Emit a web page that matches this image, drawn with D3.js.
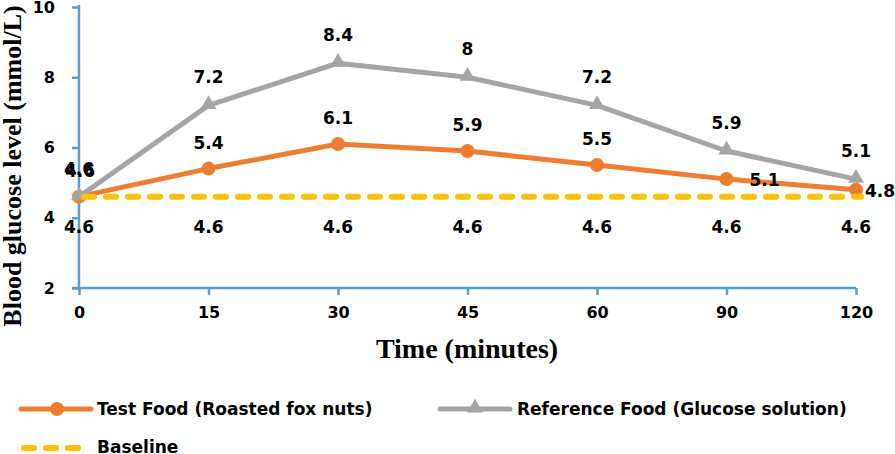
<!DOCTYPE html>
<html>
<head>
<meta charset="utf-8">
<script src="https://cdn.jsdelivr.net/npm/d3@7"></script>
<style>
  body { margin: 0; background: #fff; }
  svg { display: block; }
  .lbl { font-family: "DejaVu Sans", Verdana, sans-serif; font-weight: bold; fill: #000; }
  .ttl { font-family: "Liberation Serif", "Times New Roman", serif; font-weight: bold; fill: #000; }
</style>
</head>
<body>
<svg id="chart" width="895" height="454"></svg>
<script>
// data
var times = ["0", "15", "30", "45", "60", "90", "120"];
var testFood = [4.6, 5.4, 6.1, 5.9, 5.5, 5.1, 4.8];
var refFood = [4.6, 7.2, 8.4, 8, 7.2, 5.9, 5.1];
var baseline = [4.6, 4.6, 4.6, 4.6, 4.6, 4.6, 4.6];
var yTicks = [2, 4, 6, 8, 10];
// where each test label sits (Excel pushed the last two to the right)
var testLabelPos = ["above", "above", "above", "above", "above", "right", "right"];

var orange = "#ED7D31", grey = "#A5A5A5", yellow = "#FFC000", axisBlue = "#5B9BD5";

var svg = d3.select("#chart");

var x = d3.scalePoint().domain(times).range([79, 856]).padding(0);
var y = d3.scaleLinear().domain([2, 10]).range([288, 7]);

// axes
var yAxis = svg.append("g")
  .attr("transform", "translate(79,0)")
  .call(d3.axisLeft(y).tickValues(yTicks).tickSize(7).tickPadding(17).tickSizeOuter(0));
var xAxis = svg.append("g")
  .attr("transform", "translate(0,288)")
  .call(d3.axisBottom(x).tickSize(7).tickPadding(12).tickSizeOuter(0));

[yAxis, xAxis].forEach(function (a) {
  a.select(".domain").attr("stroke", axisBlue).attr("stroke-width", 2.5);
  a.selectAll(".tick line").attr("stroke", axisBlue).attr("stroke-width", 2.5);
  a.selectAll(".tick text").attr("class", "lbl").style("font-size", "16px").attr("fill", "#000");
});
// x axis line pokes out to the left like the original
xAxis.select(".domain").attr("d", "M72,0H856");
yAxis.select(".domain").attr("d", "M0,5V288");

var line = d3.line()
  .x(function (d, i) { return x(times[i]); })
  .y(function (d) { return y(d); });

// test food
svg.append("path").datum(testFood)
  .attr("d", line).attr("fill", "none")
  .attr("stroke", orange).attr("stroke-width", 5).attr("stroke-linejoin", "round");
svg.selectAll(".testDot").data(testFood).enter().append("circle")
  .attr("cx", function (d, i) { return x(times[i]); })
  .attr("cy", function (d) { return y(d); })
  .attr("r", 7).attr("fill", orange);

// reference food
svg.append("path").datum(refFood)
  .attr("d", line).attr("fill", "none")
  .attr("stroke", grey).attr("stroke-width", 5).attr("stroke-linejoin", "round");
var tri = d3.symbol().type(d3.symbolTriangle).size(110);
svg.selectAll(".refDot").data(refFood).enter().append("path")
  .attr("d", tri)
  .attr("transform", function (d, i) { return "translate(" + x(times[i]) + "," + (y(d) - 1) + ")"; })
  .attr("fill", grey);

// baseline
svg.append("path").datum(baseline)
  .attr("d", line).attr("fill", "none")
  .attr("stroke", yellow).attr("stroke-width", 6)
  .attr("stroke-dasharray", "10,12").attr("stroke-linecap", "round")
  .attr("transform", "translate(5,0)");

// data labels
svg.selectAll(".refLbl").data(refFood).enter().append("text")
  .attr("class", "lbl").style("font-size", "17px")
  .attr("x", function (d, i) { return x(times[i]); })
  .attr("y", function (d) { return y(d) - 22; })
  .attr("text-anchor", "middle")
  .text(function (d) { return d; });

svg.selectAll(".testLbl").data(testFood).enter().append("text")
  .attr("class", "lbl").style("font-size", "17px")
  .attr("x", function (d, i) {
    if (testLabelPos[i] === "right") return x(times[i]) + (i === 6 ? 9 : 23);
    return x(times[i]) + (i === 0 ? 1 : 0);
  })
  .attr("y", function (d, i) { return testLabelPos[i] === "right" ? y(d) + 7 : y(d) - 20; })
  .attr("text-anchor", function (d, i) { return testLabelPos[i] === "right" ? "start" : "middle"; })
  .text(function (d) { return d; });

svg.selectAll(".baseLbl").data(baseline).enter().append("text")
  .attr("class", "lbl").style("font-size", "17px")
  .attr("x", function (d, i) { return x(times[i]); })
  .attr("y", function (d) { return y(d) + 36; })
  .attr("text-anchor", "middle")
  .text(function (d) { return d; });

// axis titles
svg.append("text").attr("class", "ttl")
  .attr("x", 467).attr("y", 358)
  .attr("text-anchor", "middle")
  .style("font-size", "28px")
  .text("Time (minutes)");
svg.append("text").attr("class", "ttl")
  .attr("transform", "translate(21,166) rotate(-90)")
  .attr("text-anchor", "middle")
  .style("font-size", "26px")
  .text("Blood glucose level (mmol/L)");

// legend
var leg = svg.append("g");
leg.append("line").attr("x1", 21).attr("x2", 91).attr("y1", 409).attr("y2", 409)
  .attr("stroke", orange).attr("stroke-width", 5).attr("stroke-linecap", "round");
leg.append("circle").attr("cx", 57).attr("cy", 409).attr("r", 7).attr("fill", orange);
leg.append("text").attr("class", "lbl").style("font-size", "17px")
  .attr("x", 97).attr("y", 415).text("Test Food (Roasted fox nuts)");

leg.append("line").attr("x1", 440).attr("x2", 510).attr("y1", 409).attr("y2", 409)
  .attr("stroke", grey).attr("stroke-width", 5).attr("stroke-linecap", "round");
leg.append("path").attr("d", tri).attr("transform", "translate(475,408)").attr("fill", grey);
leg.append("text").attr("class", "lbl").style("font-size", "17px")
  .attr("x", 517).attr("y", 415).text("Reference Food (Glucose solution)");

leg.append("line").attr("x1", 24).attr("x2", 80).attr("y1", 448).attr("y2", 448)
  .attr("stroke", yellow).attr("stroke-width", 6)
  .attr("stroke-dasharray", "10,12").attr("stroke-linecap", "round");
leg.append("text").attr("class", "lbl").style("font-size", "17px")
  .attr("x", 97).attr("y", 453).text("Baseline");
</script>
</body>
</html>
